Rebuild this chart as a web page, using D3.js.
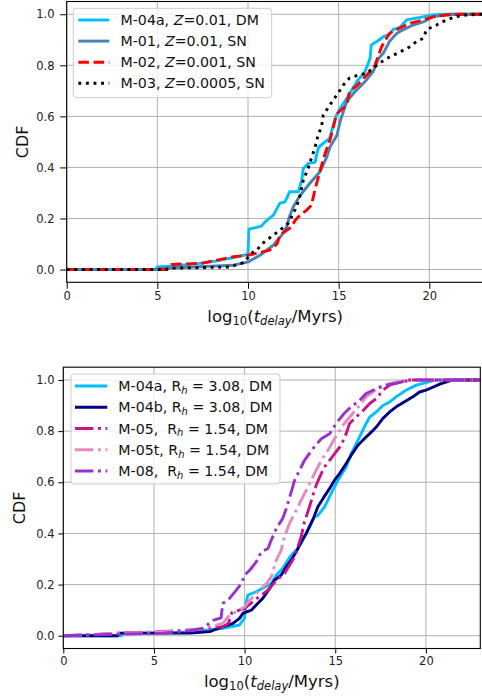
<!DOCTYPE html>
<html><head><meta charset="utf-8">
<script src="https://cdn.jsdelivr.net/npm/d3@7"></script>
<style>
html,body{margin:0;padding:0;background:#fff;}
svg{display:block;font-family:"DejaVu Sans",sans-serif;}
text{white-space:pre;}
</style></head>
<body><svg id="c" width="482" height="698"></svg>
<script>
// ---------- data ----------
const xTicks = [0, 5, 10, 15, 20];
const xTickLabels = ["0", "5", "10", "15", "20"];
const yTicks = [0, 0.2, 0.4, 0.6, 0.8, 1.0];
const yTickLabels = ["0.0", "0.2", "0.4", "0.6", "0.8", "1.0"];

// top panel series (log10 t_delay, CDF)
const m04aTopX = [0,4.9,5.0,6.0,7.35,8.27,9.2,10.0,10.05,10.75,10.94,11.4,11.76,12.04,12.3,12.78,12.96,13.05,13.33,13.7,13.8,13.9,14.5,14.85,15.07,15.5,16.0,16.45,16.73,16.8,17.1,17.46,17.8,18.0,18.4,18.75,19.2,20.2,20.8,23];
const m04aTopY = [0,0,0.01,0.015,0.024,0.034,0.047,0.06,0.158,0.17,0.187,0.213,0.26,0.265,0.305,0.305,0.35,0.396,0.416,0.42,0.455,0.48,0.514,0.6,0.63,0.677,0.736,0.775,0.827,0.88,0.893,0.912,0.92,0.94,0.95,0.978,0.984,0.997,1.0,1.0];
const m01TopX = [0,5.0,5.15,7.0,9.2,10.0,10.66,11.4,11.86,12.13,12.28,12.5,12.87,13.4,13.97,14.34,14.52,14.9,15.1,15.44,15.9,16.45,16.9,17.2,17.46,17.8,18.2,18.57,19.1,19.67,20.2,20.8,21.3,23];
const m01TopY = [0,0,0.005,0.01,0.017,0.03,0.056,0.095,0.135,0.167,0.206,0.246,0.29,0.337,0.383,0.44,0.48,0.525,0.585,0.657,0.697,0.736,0.775,0.827,0.847,0.893,0.925,0.94,0.958,0.97,0.99,0.997,1.0,1.0];
const m02TopX = [0,5.5,5.6,5.8,7.5,8.3,9.2,10.0,10.85,11.2,11.6,11.76,12.4,12.6,12.87,13.24,13.5,13.7,13.97,14.25,14.52,14.8,14.9,15.44,15.6,16.0,16.45,16.73,17.0,17.2,17.37,17.8,18.2,18.93,19.67,20.2,20.95,21.7,23];
const m02TopY = [0,0,0.01,0.02,0.025,0.037,0.05,0.056,0.07,0.076,0.1,0.135,0.167,0.193,0.213,0.233,0.252,0.315,0.385,0.455,0.507,0.585,0.61,0.644,0.697,0.72,0.755,0.775,0.8,0.84,0.873,0.925,0.94,0.965,0.978,0.99,0.997,1.0,1.0];
const m03TopX = [0,5.5,5.6,9.0,9.74,10.3,10.48,10.85,11.4,11.76,12.2,12.4,12.68,12.87,13.05,13.33,13.7,13.88,14.06,14.15,14.52,14.9,15.26,15.6,16.0,16.54,17.1,17.65,18.4,18.93,19.3,19.67,19.85,20.4,20.95,21.5,22.0,22.8,23];
const m03TopY = [0,0,0.005,0.01,0.027,0.07,0.076,0.105,0.135,0.154,0.18,0.206,0.246,0.29,0.35,0.4,0.48,0.53,0.56,0.605,0.645,0.684,0.723,0.75,0.76,0.769,0.8,0.827,0.853,0.873,0.893,0.906,0.94,0.958,0.978,0.991,0.997,1.0,1.0];

// bottom panel series
const m04aBotX = [0,3.2,3.3,6.0,7.0,8.8,9.72,10.0,10.05,10.18,10.64,11.1,11.47,11.75,12.1,12.39,12.57,12.85,13.12,13.4,13.58,13.86,14.04,14.41,14.87,15.15,15.6,15.88,16.25,16.6,16.9,17.26,17.63,18.0,18.36,18.9,19.47,20.0,20.5,23];
const m04aBotY = [0,0,0.01,0.012,0.015,0.029,0.042,0.07,0.12,0.159,0.172,0.19,0.204,0.237,0.263,0.296,0.315,0.335,0.36,0.4,0.43,0.465,0.47,0.504,0.57,0.608,0.66,0.712,0.764,0.816,0.855,0.875,0.9,0.914,0.934,0.96,0.98,0.99,1.0,1.0];
const m04bBotX = [0,3.0,3.1,7.0,8.07,8.8,9.35,9.72,9.9,10.37,10.64,11.0,11.38,11.65,12.02,12.3,12.57,12.85,13.12,13.4,13.58,13.8,14.04,14.32,14.69,14.96,15.24,15.6,15.88,16.25,16.6,17.0,17.26,17.63,18.0,18.36,18.8,19.28,19.65,20.0,20.8,21.5,23];
const m04bBotY = [0,0,0.01,0.01,0.016,0.035,0.048,0.068,0.087,0.1,0.12,0.146,0.185,0.217,0.237,0.27,0.296,0.328,0.367,0.4,0.426,0.46,0.504,0.536,0.576,0.608,0.634,0.673,0.706,0.745,0.77,0.797,0.816,0.85,0.875,0.895,0.914,0.934,0.953,0.96,0.985,1.0,1.0];
const m05BotX = [0,1.8,3.0,5.0,6.3,7.5,8.0,8.8,9.1,9.3,10.0,10.46,10.92,11.29,11.75,12.2,12.48,12.76,12.94,13.12,13.3,13.58,13.77,13.95,14.14,14.41,14.69,15.05,15.33,15.6,15.79,16.16,16.53,16.9,17.26,17.63,18.0,18.55,19.28,23];
const m05BotY = [0,0.005,0.01,0.015,0.02,0.025,0.03,0.035,0.048,0.09,0.107,0.133,0.159,0.178,0.217,0.243,0.276,0.309,0.348,0.387,0.445,0.504,0.55,0.589,0.62,0.66,0.686,0.72,0.745,0.79,0.83,0.856,0.88,0.908,0.927,0.96,0.98,0.992,1.0,1.0];
const m05tBotX = [0,1.8,3.0,5.0,6.7,7.5,8.07,8.8,9.08,9.54,10.0,10.28,10.64,11.2,11.47,11.75,12.02,12.2,12.48,12.76,13.03,13.3,13.5,13.58,13.95,14.23,14.6,14.96,15.42,15.88,16.34,16.7,17.08,17.44,18.0,18.73,19.3,23];
const m05tBotY = [0,0.005,0.01,0.013,0.02,0.025,0.035,0.048,0.074,0.094,0.113,0.139,0.165,0.204,0.23,0.296,0.335,0.387,0.44,0.478,0.517,0.556,0.582,0.595,0.647,0.686,0.725,0.77,0.823,0.862,0.9,0.934,0.953,0.973,0.986,0.996,1.0,1.0];
const m08BotX = [0,2.5,5.5,7.0,7.7,8.25,8.7,8.8,9.17,9.54,9.82,10.0,10.28,10.64,10.92,11.29,11.47,11.75,12.1,12.3,12.48,12.76,13.03,13.3,13.77,14.23,14.69,15.05,15.5,15.88,16.34,16.7,17.08,17.8,18.55,19.0,23];
const m08BotY = [0,0.005,0.01,0.02,0.029,0.06,0.07,0.126,0.146,0.178,0.204,0.237,0.256,0.289,0.328,0.341,0.374,0.42,0.458,0.497,0.54,0.608,0.647,0.686,0.732,0.77,0.79,0.83,0.87,0.895,0.92,0.947,0.96,0.98,0.99,1.0,1.0];

// legend labels: segments [text, style] (style: "" normal, "i" italic, "s" italic subscript)
const topLabels = [
  [["M-04a, ",""],["Z","i"],["=0.01, DM",""]],
  [["M-01, ",""],["Z","i"],["=0.01, SN",""]],
  [["M-02, ",""],["Z","i"],["=0.001, SN",""]],
  [["M-03, ",""],["Z","i"],["=0.0005, SN",""]]
];
const botLabels = [
  [["M-04a, R",""],["h","s"],[" = 3.08, DM",""]],
  [["M-04b, R",""],["h","s"],[" = 3.08, DM",""]],
  [["M-05,  R",""],["h","s"],[" = 1.54, DM",""]],
  [["M-05t, R",""],["h","s"],[" = 1.54, DM",""]],
  [["M-08,  R",""],["h","s"],[" = 1.54, DM",""]]
];
const xLabelSegs = [["log",""],["10","n"],["(",""],["t","i"],["delay","s"],["/Myrs)",""]];
const yLabel = "CDF";

// ---------- drawing ----------
const svg = d3.select("#c");
const zip = (xs, ys) => xs.map((v, i) => [v, ys[i]]);

function rich(sel, segs, size) {
  let sub = false;
  segs.forEach(([t, st]) => {
    const isSub = (st === "s" || st === "n");
    const ts = sel.append("tspan").text(t);
    ts.attr("font-size", isSub ? size * 0.7 : size);
    if (st === "i" || st === "s") ts.attr("font-style", "italic");
    if (isSub && !sub) ts.attr("dy", size * 0.2);
    if (!isSub && sub) ts.attr("dy", -size * 0.2);
    sub = isSub;
  });
}

function panel(cfg) {
  const x = d3.scaleLinear().domain([0, 23]).range([cfg.left, cfg.right]);
  const y = d3.scaleLinear().domain([-0.05, 1.05]).range([cfg.bottom, cfg.top]);
  const g = svg.append("g");
  const clipId = "clip" + cfg.id;
  svg.append("clipPath").attr("id", clipId).append("rect")
    .attr("x", cfg.left).attr("y", cfg.top).attr("width", cfg.right - cfg.left).attr("height", cfg.bottom - cfg.top);

  // grid
  g.selectAll(".gx").data(xTicks).join("line")
    .attr("x1", d => x(d)).attr("x2", d => x(d)).attr("y1", cfg.top).attr("y2", cfg.bottom)
    .attr("stroke", "#b0b0b0").attr("stroke-width", 1);
  g.selectAll(".gy").data(yTicks).join("line")
    .attr("y1", d => y(d)).attr("y2", d => y(d)).attr("x1", cfg.left).attr("x2", cfg.right)
    .attr("stroke", "#b0b0b0").attr("stroke-width", 1);

  // lines
  const line = d3.line().x(d => x(d[0])).y(d => y(d[1]));
  const lg = g.append("g").attr("clip-path", `url(#${clipId})`);
  cfg.series.forEach(s => {
    lg.append("path").attr("d", line(zip(s.x, s.y)))
      .attr("fill", "none").attr("stroke", s.color).attr("stroke-width", 2.9)
      .attr("stroke-dasharray", s.dash || null)
      .attr("stroke-linejoin", "round").attr("stroke-linecap", s.dash ? "butt" : "square");
  });

  // axes
  const ax = g.append("g").attr("transform", `translate(0,${cfg.bottom})`)
    .call(d3.axisBottom(x).tickValues(xTicks).tickFormat((d, i) => xTickLabels[i]).tickSize(cfg.tick).tickPadding(3));
  const ay = g.append("g").attr("transform", `translate(${cfg.left},0)`)
    .call(d3.axisLeft(y).tickValues(yTicks).tickFormat((d, i) => yTickLabels[i]).tickSize(cfg.tick).tickPadding(cfg.left - 54.5 - cfg.tick));
  [ax, ay].forEach(a => {
    a.select(".domain").remove();
    a.selectAll("line").attr("stroke", "#000").attr("stroke-width", 1);
    a.selectAll("text").attr("font-size", 11.5).attr("fill", "#222").attr("font-family", "DejaVu Sans");
  });
  ax.selectAll("text").attr("dy", "0.75em");
  g.append("rect").attr("x", cfg.left).attr("y", cfg.top).attr("width", cfg.right - cfg.left).attr("height", cfg.bottom - cfg.top)
    .attr("fill", "none").attr("stroke", "#000").attr("stroke-width", 1.1);

  // labels
  const xl = g.append("text").attr("x", (cfg.left + cfg.right) / 2).attr("y", cfg.xlabelY)
    .attr("text-anchor", "middle").attr("fill", "#111");
  rich(xl, xLabelSegs, 16.5);
  g.append("text").attr("transform", `translate(${cfg.ylabelX},${(cfg.top + cfg.bottom) / 2}) rotate(-90)`)
    .attr("text-anchor", "middle").attr("font-size", 16).attr("fill", "#111").text(yLabel);

  // legend
  const L = cfg.legend;
  const lgd = g.append("g");
  lgd.append("rect").attr("x", L.x0).attr("y", L.y0).attr("width", L.x1 - L.x0).attr("height", L.y1 - L.y0)
    .attr("rx", 3).attr("fill", "#fff").attr("fill-opacity", 0.8).attr("stroke", "#cccccc").attr("stroke-width", 1);
  cfg.series.forEach((s, i) => {
    const cy = L.row0 + i * L.dy;
    lgd.append("line").attr("x1", L.lx0).attr("x2", L.lx1).attr("y1", cy).attr("y2", cy)
      .attr("stroke", s.color).attr("stroke-width", 2.9).attr("stroke-dasharray", s.dash || null)
      .attr("stroke-linecap", "butt");
    const t = lgd.append("text").attr("x", L.tx).attr("y", cy + 5).attr("fill", "#111");
    rich(t, cfg.labels[i], 14.2);
  });
}

const DASH = "10.6,4.6", DOT = "2.9,4.7", DASHDOT = "18.4,4.6,2.9,4.6";

panel({
  id: "top", left: 66.7, right: 483.7, top: 1.5, bottom: 282.3, tick: 6.5,
  xlabelY: 321.5, ylabelX: 27.7,
  labels: topLabels,
  legend: {x0: 73.3, y0: 8.3, x1: 271.7, y1: 97.7, row0: 20, dy: 21.1, lx0: 78.3, lx1: 109.3, tx: 120.5},
  series: [
    {x: m04aTopX, y: m04aTopY, color: "#00BFFF"},
    {x: m01TopX, y: m01TopY, color: "#4682B4"},
    {x: m02TopX, y: m02TopY, color: "#FF0000", dash: DASH},
    {x: m03TopX, y: m03TopY, color: "#000000", dash: DOT}
  ]
});

panel({
  id: "bot", left: 63.3, right: 480.3, top: 367.2, bottom: 648.5, tick: 5,
  xlabelY: 686.5, ylabelX: 25,
  labels: botLabels,
  legend: {x0: 71, y0: 374, x1: 280, y1: 484, row0: 386, dy: 21.25, lx0: 75, lx1: 107.3, tx: 118.3},
  series: [
    {x: m04aBotX, y: m04aBotY, color: "#00BFFF"},
    {x: m04bBotX, y: m04bBotY, color: "#000080"},
    {x: m05BotX, y: m05BotY, color: "#C71585", dash: DASHDOT},
    {x: m05tBotX, y: m05tBotY, color: "#E68AC3", dash: DASHDOT},
    {x: m08BotX, y: m08BotY, color: "#9932CC", dash: DASHDOT}
  ]
});
</script>
</body></html>
